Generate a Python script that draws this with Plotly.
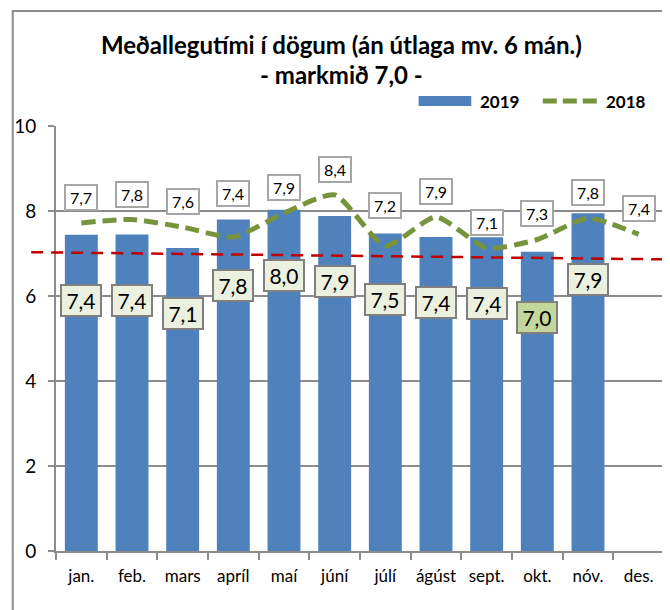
import plotly.graph_objects as go

months = ["jan.", "feb.", "mars", "apríl", "maí", "júní", "júlí", "ágúst", "sept.", "okt.", "nóv.", "des."]
values_2019 = [7.44, 7.45, 7.13, 7.80, 8.03, 7.88, 7.47, 7.39, 7.38, 7.04, 7.95, None]
labels_2019 = ["7,4", "7,4", "7,1", "7,8", "8,0", "7,9", "7,5", "7,4", "7,4", "7,0", "7,9", None]
values_2018 = [7.72, 7.80, 7.62, 7.39, 7.95, 8.38, 7.18, 7.86, 7.13, 7.33, 7.83, 7.45]
labels_2018 = ["7,7", "7,8", "7,6", "7,4", "7,9", "8,4", "7,2", "7,9", "7,1", "7,3", "7,8", "7,4"]
target_line = [7.03, 6.86]   # target 7,0 line as drawn (start, end)
y_ticks = [0, 2, 4, 6, 8, 10]

OFF = 8  # page body margin
W, H = 662, 602
L, R, T, B = 44, 6, 118, 59
pw, ph = W - L - R, H - T - B

def px(x):  # page pixel x -> paper
    return (x - OFF - L) / pw

def py(y):  # page pixel y -> paper
    return (H - B - (y - OFF)) / ph

FONT = "Lato"
BLUE = "#4F81BD"
GREEN = "#77933C"
RED = "#C00000"
GRID = "#8C8C8C"

fig = go.Figure()
fig.add_trace(go.Bar(x=months, y=values_2019, marker=dict(color=BLUE, line=dict(width=0)),
                     name="2019", showlegend=False, hoverinfo="skip"))
fig.add_trace(go.Scatter(x=months, y=values_2018, mode="lines", name="2018", showlegend=False,
                         line=dict(color=GREEN, width=5, dash="14px,7px", shape="spline", smoothing=0.6),
                         hoverinfo="skip"))

shapes = []
# target line
shapes.append(dict(type="line", xref="paper", yref="y", x0=px(27), x1=px(672),
                   y0=target_line[0], y1=target_line[1],
                   line=dict(color=RED, width=2.5, dash="12px,8px"), layer="above"))
# outer frame
shapes.append(dict(type="rect", xref="paper", yref="paper", x0=px(8.5), x1=px(700),
                   y0=py(640), y1=py(11), line=dict(color="#8C8C8C", width=2), layer="below"))
# custom legend
shapes.append(dict(type="rect", xref="paper", yref="paper", x0=px(417), x1=px(470),
                   y0=py(106), y1=py(96), fillcolor=BLUE, line=dict(width=0)))
shapes.append(dict(type="line", xref="paper", yref="paper", x0=px(542), x1=px(598),
                   y0=py(101), y1=py(101), line=dict(color=GREEN, width=5, dash="14px,6px")))

annotations = []
annotations.append(dict(xref="paper", yref="paper", x=px(339), y=py(45), text="<b>Meðallegutími í dögum (án útlaga mv. 6 mán.)</b>",
                        showarrow=False, font=dict(family=FONT, size=24, color="#000000"), xanchor="center", yanchor="middle"))
annotations.append(dict(xref="paper", yref="paper", x=px(339), y=py(75), text="<b>- markmið 7,0 -</b>",
                        showarrow=False, font=dict(family=FONT, size=24, color="#000000"), xanchor="center", yanchor="middle"))
annotations.append(dict(xref="paper", yref="paper", x=px(477), y=py(101), text="<b>2019</b>", showarrow=False,
                        font=dict(family=FONT, size=17, color="#000000"), xanchor="left", yanchor="middle"))
annotations.append(dict(xref="paper", yref="paper", x=px(604), y=py(101), text="<b>2018</b>", showarrow=False,
                        font=dict(family=FONT, size=17, color="#000000"), xanchor="left", yanchor="middle"))

# 2019 data labels (inside bars)
for m, v, t in zip(months, values_2019, labels_2019):
    if v is None:
        continue
    fill = "#C3D69B" if m == "okt." else "#EBF1DE"
    annotations.append(dict(x=m, y=v - 1.55, text=t, showarrow=False,
                            font=dict(family=FONT, size=21, color="#000000"),
                            bgcolor=fill, bordercolor="#7F7F7F", borderwidth=2, borderpad=3,
                            width=32, height=23))
# 2018 data labels (above line)
nudge = {"apríl": 0.42, "júlí": 0.36}
for m, v, t in zip(months, values_2018, labels_2018):
    annotations.append(dict(x=m, y=v + 0.6 + nudge.get(m, 0), text=t, showarrow=False,
                            font=dict(family=FONT, size=16, color="#000000"),
                            bgcolor="#FFFFFF", bordercolor="#A6A6A6", borderwidth=2, borderpad=3,
                            width=24, height=17))

fig.update_layout(
    width=W, height=H,
    margin=dict(l=L, r=R, t=T, b=B),
    paper_bgcolor="#FFFFFF", plot_bgcolor="#FFFFFF",
    bargap=0.35,
    shapes=shapes, annotations=annotations,
    font=dict(family=FONT, color="#000000"),
)
fig.update_xaxes(type="category", categoryorder="array", categoryarray=months,
                 showline=True, linecolor=GRID, linewidth=2, ticks="outside", tickson="boundaries",
                 ticklen=7, tickwidth=2, tickcolor=GRID, showgrid=False, tickangle=0,
                 ticklabelstandoff=9,
                 tickfont=dict(family=FONT, size=17, color="#000000"), range=[-0.5, 11.5])
fig.update_yaxes(range=[0, 10], tickvals=y_ticks, showline=True, linecolor=GRID, linewidth=2,
                 ticks="outside", ticklen=6, tickwidth=2, tickcolor=GRID,
                 showgrid=True, gridcolor=GRID, gridwidth=1.5, zeroline=False,
                 tickfont=dict(family=FONT, size=19, color="#000000"), ticklabelstandoff=8)

fig.write_html("out.html")
